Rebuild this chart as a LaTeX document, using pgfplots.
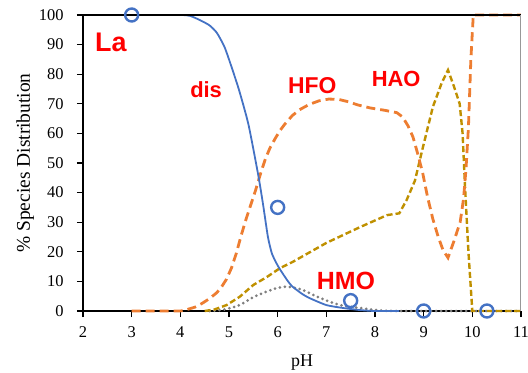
\documentclass[border=0pt]{standalone}
\usepackage{fontspec}
\setmainfont{Liberation Serif}
\newfontfamily\axfont{Liberation Serif}
\newfontfamily\labfont{Liberation Sans}
\usepackage{pgfplots}
\pgfplotsset{compat=1.18}
\definecolor{cblue}{HTML}{4472C4}
\definecolor{corange}{HTML}{ED7D31}
\definecolor{cgold}{HTML}{BF9000}
\definecolor{cgray}{HTML}{7F7F7F}
\definecolor{cred}{HTML}{FF0000}
\begin{document}
\begin{tikzpicture}
\begin{axis}[
  at={(0,0)}, anchor=south west,
  scale only axis, width=438bp, height=296bp,
  xmin=2, xmax=11, ymin=0, ymax=100,
  xtick={2,3,4,5,6,7,8,9,10,11}, ytick={0,10,20,30,40,50,60,70,80,90,100},
  xticklabels={2,3,4,5,6,7,8,9,10,11},
  yticklabels={0,10,20,30,40,50,60,70,80,90,100},
  axis x line*=bottom, axis y line*=left,
  axis line style={-, line width=1.6bp, black},
  tick align=outside, major tick length=6bp,
  tick style={line width=1.2bp, black},
  every tick label/.append style={font=\axfont\fontsize{16.5}{20}\selectfont},
  xticklabel style={yshift=-6bp},
  yticklabel style={xshift=-10bp},
  xlabel={pH}, ylabel={\% Species Distribution},
  xlabel style={font=\axfont\fontsize{18}{21}\selectfont, at={(axis description cs:0.5,-0.189)}, anchor=base},
  ylabel style={font=\axfont\fontsize{19.5}{22}\selectfont, at={(axis description cs:-0.132,0.5)}, anchor=center},
  clip=false,
]
% black dashed baseline species
\addplot[black, line width=1.2bp, dash pattern=on 6bp off 4bp] coordinates {(3,0)(11,0)};
% HMO gray dotted
\addplot[cgray, line width=3bp, line cap=round, dash pattern=on 0bp off 5bp, smooth, tension=0.4] coordinates {
(4.6,0)(4.9,0.5)(5.22,2)(5.5,4.7)(5.78,6.6)(6,7.8)(6.2,8.2)(6.5,7.2)(6.87,4.4)(7.28,2)(7.69,1)(8.03,0.3)(8.5,0)(11,0)};
% HAO gold dashed
\addplot[cgold, line width=2.4bp, dash pattern=on 6bp off 3bp] coordinates {
(4.5,0)(4.7,0.5)(4.95,2)(5.22,4.8)(5.5,8.8)(5.78,11.5)(6.05,14.5)(6.31,16.6)(7,23)(7.7,28.4)(8.25,32.4)(8.5,33)(8.65,37.5)(8.82,44)(8.98,55)(9.19,69)(9.37,77)(9.5,81.4)(9.62,76)(9.74,70)(9.8,60)(9.85,42)(9.92,20)(10,0)(11,0)};
% HFO orange dashed
\addplot[corange, line width=2.8bp, dash pattern=on 9bp off 5bp] coordinates {
(3,0)(4,0)(4.1,0.3)(4.2,0.8)(4.3,1.3)(4.45,2.6)(4.6,4.2)(4.75,6.2)(4.85,8.2)(4.95,10.8)(5.05,14.5)(5.15,19.5)(5.25,25.5)(5.35,31)(5.45,36)(5.55,41)(5.65,46.5)(5.75,51.5)(5.84,55)(5.95,58.3)(6.05,61)(6.15,63.2)(6.3,66)(6.45,68)(6.65,69.8)(6.85,71)(7.05,71.6)(7.25,71.5)(7.45,70.7)(7.65,69.6)(7.9,68.6)(8.2,67.8)(8.45,67)(8.57,65.5)(8.68,62.5)(8.78,58.8)(8.88,53)(8.98,46.6)(9.08,38.5)(9.19,31)(9.3,25)(9.4,20.5)(9.5,18)(9.62,23.5)(9.75,30)(9.82,38)(9.87,48)(9.92,62)(9.97,85)(10.02,100)(11,100)};
% dis blue solid
\addplot[cblue, line width=1.8bp, smooth, tension=0.35] coordinates {
(3,100)(4,100)(4.2,99.7)(4.4,98.3)(4.6,96.5)(4.75,94)(4.9,89.5)(5,85)(5.2,75)(5.4,63)(5.6,46)(5.7,36)(5.8,25)(5.88,19.5)(5.97,16.3)(6.05,14)(6.2,10.3)(6.3,8.3)(6.5,5.8)(6.65,4.4)(7,2)(7.35,1)(7.7,0.3)(8,0)(8.5,0)};
% measured points
\addplot[only marks, mark=o, mark size=6.5bp, mark options={cblue, line width=2.4bp}] coordinates {
(3,100)(6,35)(7.5,3.5)(9,0)(10.3,0)};
% labels
\node[anchor=base west, text=cred, font=\labfont\bfseries\fontsize{27}{30}\selectfont, inner sep=0pt] at (axis cs:2.246,87.5) {La};
\node[anchor=base west, text=cred, font=\labfont\bfseries\fontsize{22}{26}\selectfont, inner sep=0pt] at (axis cs:4.20,72) {dis};
\node[anchor=base west, text=cred, font=\labfont\bfseries\fontsize{23}{26}\selectfont, inner sep=0pt] at (axis cs:6.21,73.6) {HFO};
\node[anchor=base west, text=cred, font=\labfont\bfseries\fontsize{22}{26}\selectfont, inner sep=0pt] at (axis cs:7.93,75.7) {HAO};
\node[anchor=base west, text=cred, font=\labfont\bfseries\fontsize{25}{28}\selectfont, inner sep=0pt] at (axis cs:6.80,7.1) {HMO};
% frame top and right
\draw[black, line width=1.2bp] (rel axis cs:0,1) -- (rel axis cs:1,1);
\draw[cgray!80, line width=1bp] (rel axis cs:1,0) -- (rel axis cs:1,1);
\end{axis}
\pgfresetboundingbox
\path (-83bp,-62bp) rectangle (445bp,311bp);
\end{tikzpicture}
\end{document}
